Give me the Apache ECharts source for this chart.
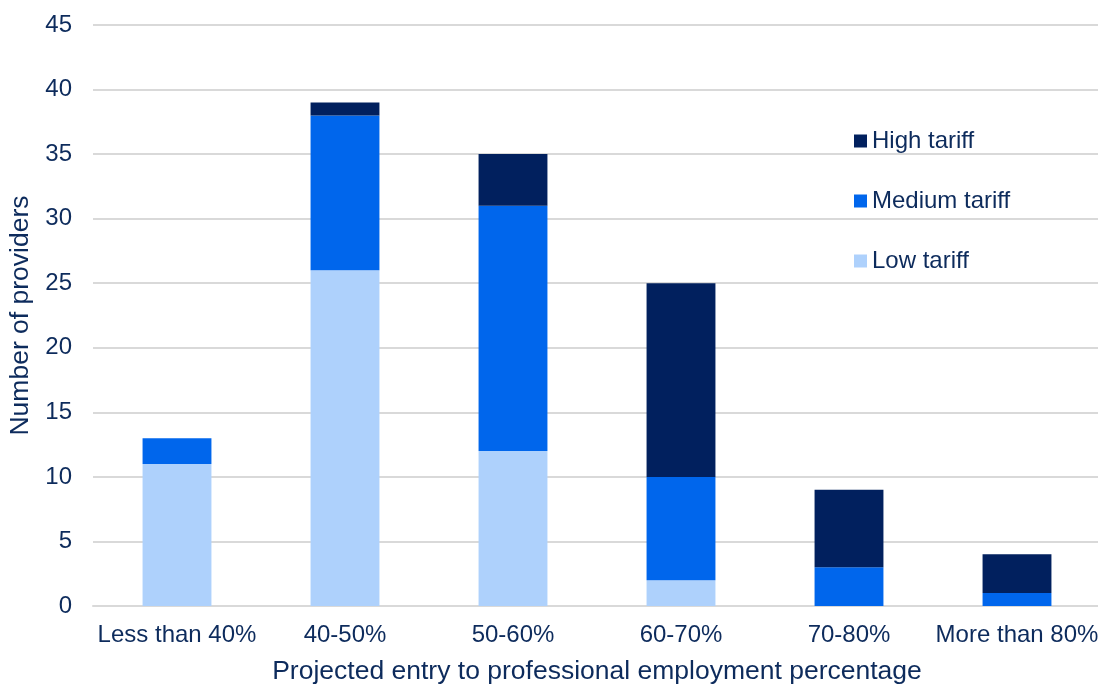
<!DOCTYPE html>
<html>
<head>
<meta charset="utf-8">
<script src="https://cdn.jsdelivr.net/npm/echarts@6/dist/echarts.min.js"></script>
<style>
  html, body { margin: 0; padding: 0; background: #ffffff; }
  #chart { width: 1098px; height: 684px; }
</style>
</head>
<body>
<div id="chart"></div>
<script>
// Providers by projected entry to professional employment, stacked by tariff group
const categories = ['Less than 40%', '40-50%', '50-60%', '60-70%', '70-80%', 'More than 80%'];
const lowTariff = [11, 26, 12, 2, 0, 0];
const mediumTariff = [2, 12, 19, 8, 3, 1];
const highTariff = [0, 1, 4, 15, 6, 3];
const yTicks = { min: 0, max: 45, interval: 5 };

const textColor = '#0d2b5c';
const font = 'Liberation Sans, Arial, sans-serif';

const chart = echarts.init(document.getElementById('chart'), null, { renderer: 'canvas' });

function barSeries(name, data, color) {
  return {
    name: name,
    type: 'bar',
    stack: 'total',
    data: data,
    barWidth: '41%',
    itemStyle: { color: color },
    emphasis: { disabled: true }
  };
}

chart.setOption({
  animation: false,
  backgroundColor: '#ffffff',
  grid: {
    left: 93, right: -3, top: 25, bottom: 78,
    containLabel: false,
    outerBoundsMode: 'none'
  },
  legend: {
    orient: 'vertical',
    left: 854,
    top: 129,
    padding: 0,
    itemWidth: 13,
    itemHeight: 13,
    itemGap: 36,
    icon: 'rect',
    data: ['High tariff', 'Medium tariff', 'Low tariff'],
    textStyle: { color: textColor, fontSize: 24, fontFamily: font, padding: 0 }
  },
  xAxis: {
    type: 'category',
    data: categories,
    name: 'Projected entry to professional employment percentage',
    nameLocation: 'middle',
    nameGap: 52,
    nameTextStyle: { color: textColor, fontSize: 26.5, fontFamily: font },
    axisLine: { show: true, lineStyle: { color: '#d9d9d9', width: 2 } },
    axisTick: { show: false },
    axisLabel: { color: textColor, fontSize: 24, fontFamily: font, margin: 17, interval: 0 }
  },
  yAxis: {
    type: 'value',
    min: yTicks.min,
    max: yTicks.max,
    interval: yTicks.interval,
    name: 'Number of providers',
    nameLocation: 'middle',
    nameGap: 57,
    nameTextStyle: { color: textColor, fontSize: 26.5, fontFamily: font },
    axisLine: { show: false },
    axisTick: { show: false },
    axisLabel: { color: textColor, fontSize: 24, fontFamily: font, margin: 21 },
    splitLine: { lineStyle: { color: '#d9d9d9', width: 2 } }
  },
  series: [
    barSeries('Low tariff', lowTariff, '#aed1fc'),
    barSeries('Medium tariff', mediumTariff, '#0066ec'),
    barSeries('High tariff', highTariff, '#01205e')
  ]
});
</script>
</body>
</html>
